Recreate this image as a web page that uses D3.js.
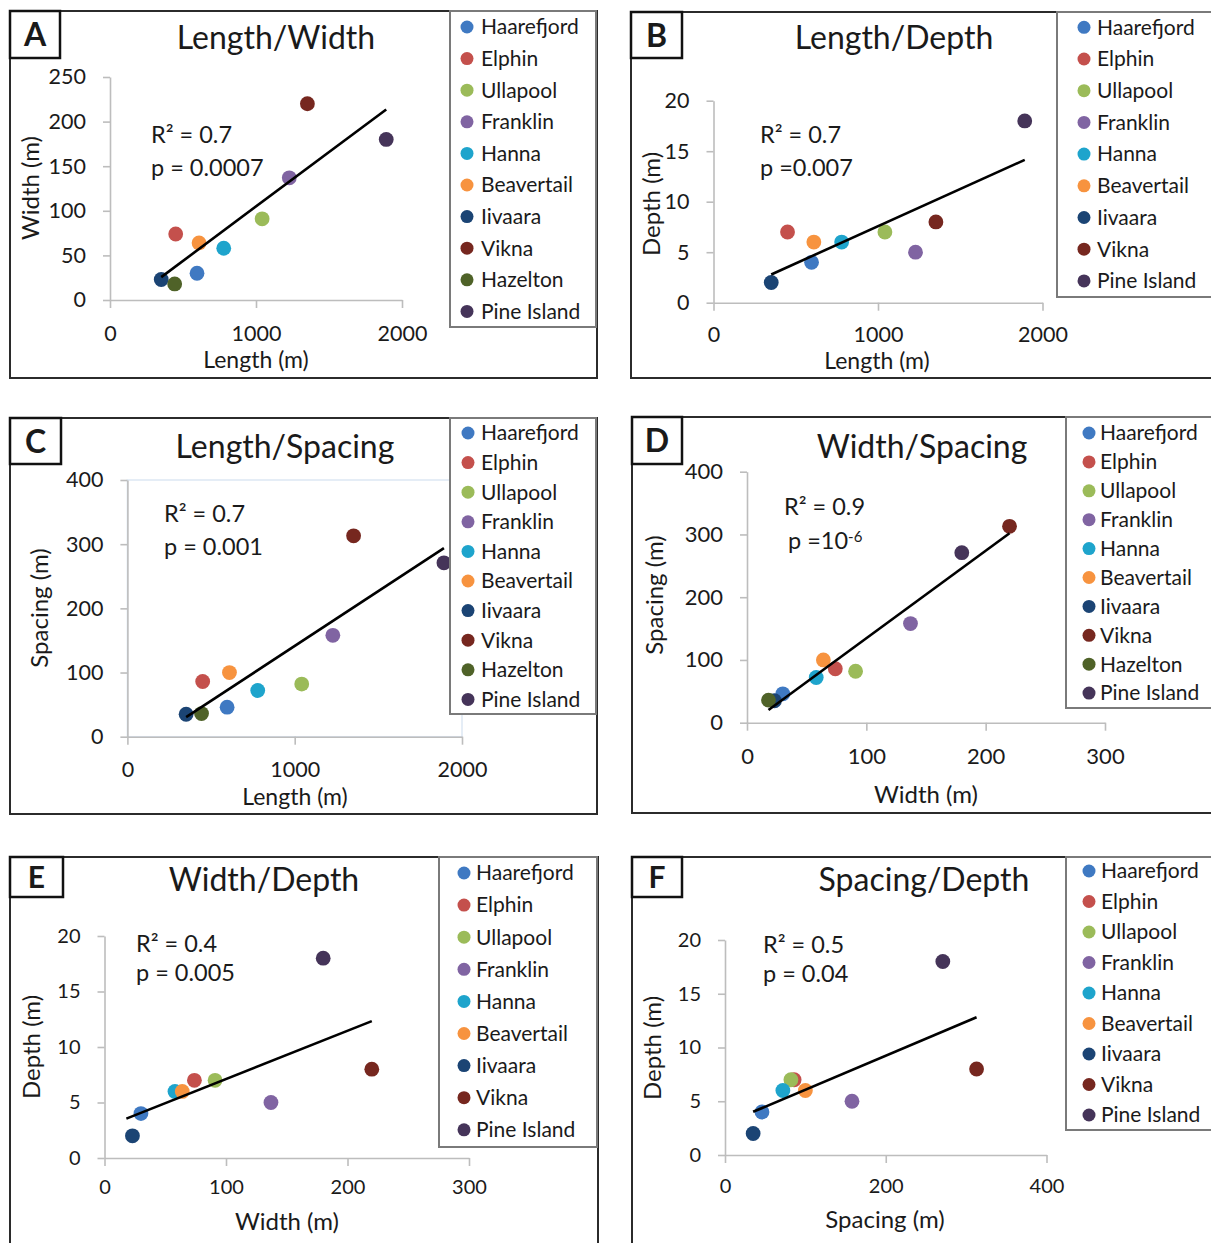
<!DOCTYPE html>
<html>
<head>
<meta charset="utf-8">
<script src="https://cdn.jsdelivr.net/npm/d3@7"></script>
<style>
	body { margin: 0; background: #fff; }
	text { font-family: Lato, "Open Sans", sans-serif; fill: #1a1a1a; }
</style>
</head>
<body>
<div id="chart"></div>
<script>
var sites   = ["Haarefjord", "Elphin", "Ullapool", "Franklin", "Hanna", "Beavertail", "Iivaara", "Vikna", "Hazelton", "Pine Island"];
var colors  = ["#3f79c2", "#c4504c", "#9bbb59", "#8064a2", "#1ea4cc", "#f7933f", "#1b4474", "#76271f", "#4f6228", "#453459"];
var length  = [596, 450, 1042, 1228, 779, 610, 351, 1352, 443, 1892];
var width   = [30, 74, 91, 137, 58, 64, 23, 220, 18, 180];
var spacing = [46, 86, 82, 158, 72, 100, 35, 313, 36, 271];
var depth   = [4, 7, 7, 5, 6, 6, 2, 8, null, 18];

// tick labels
var lengthTicks   = [0, 1000, 2000];
var widthTicksA   = [0, 50, 100, 150, 200, 250];
var widthTicks    = [0, 100, 200, 300];
var spacingTicksC = [0, 100, 200, 300, 400];
var spacingTicksF = [0, 200, 400];
var depthTicks    = [0, 5, 10, 15, 20];

// statistics printed on each panel
var r2Text = ["0.7", "0.7", "0.7", "0.9", "0.4", "0.5"];
var pText  = ["= 0.0007", "=0.007", "= 0.001", "=10", "= 0.005", "= 0.04"];

var cols = { length: length, width: width, spacing: spacing, depth: depth };

var panels = [
	{id:"A", title:"Length/Width", x:"length", y:"width", xTicks:lengthTicks, yTicks:widthTicksA,
	 frame:[10,11,587,367], lbox:[10,11,50,47], titleXY:[276,38], xRange:[110,402], yRange:[300,77],
	 xLabel:"Length (m)", yLabel:"Width (m)", xTickDy:33.5, xTitleXY:[256,360], yTitleXY:[31,188],
	 stat:[151,135,168], leg:[450,11,146,316], mx:467, tx:481, ly0:27, ldy:31.6, hz:true, fs:21.5, ts:23},
	{id:"B", title:"Length/Depth", x:"length", y:"depth", xTicks:lengthTicks, yTicks:depthTicks,
	 frame:[631,12,590,366], lbox:[631,12,51,46], titleXY:[894,38], xRange:[713.5,1042.5], yRange:[302.7,100.7],
	 xLabel:"Length (m)", yLabel:"Depth (m)", xTickDy:32, xTitleXY:[877,361], yTitleXY:[652,204],
	 stat:[760,135,168], leg:[1057,12,160,285], mx:1084, tx:1097, ly0:27.3, ldy:31.7, hz:false, fs:21.5, ts:23},
	{id:"C", title:"Length/Spacing", x:"length", y:"spacing", xTicks:lengthTicks, yTicks:spacingTicksC,
	 frame:[10,418,587,396], lbox:[10,418,51,46], titleXY:[285,447], xRange:[127.4,462], yRange:[736.7,480],
	 xLabel:"Length (m)", yLabel:"Spacing (m)", xTickDy:33, xTitleXY:[295,797], yTitleXY:[40,608],
	 stat:[164,514,547], leg:[450,418,146,296], mx:468, tx:481, ly0:433, ldy:29.6, hz:true, fs:21.5, ts:23, plotBox:true},
	{id:"D", title:"Width/Spacing", x:"width", y:"spacing", xTicks:widthTicks, yTicks:spacingTicksC,
	 frame:[632,417,590,396], lbox:[632,417,50,47], titleXY:[922,447], xRange:[747,1105], yRange:[722.7,471.7],
	 xLabel:"Width (m)", yLabel:"Spacing (m)", xTickDy:34, xTitleXY:[926,795], yTitleXY:[655,595],
	 stat:[784,507,541], leg:[1066,417,150,291], mx:1089, tx:1100, ly0:433, ldy:28.9, hz:true, fs:22, ts:24, sup:"-6", pX:788},
	{id:"E", title:"Width/Depth", x:"width", y:"depth", xTicks:widthTicks, yTicks:depthTicks,
	 frame:[10,857,588,400], lbox:[10,857,53,40], titleXY:[264,880], xRange:[104.5,469], yRange:[1158,936],
	 xLabel:"Width (m)", yLabel:"Depth (m)", xTickDy:29, xTitleXY:[287,1222], yTitleXY:[32,1047],
	 stat:[136,944,973], leg:[439,857,158,290], mx:464, tx:476, ly0:873, ldy:32.1, hz:false, fs:20, ts:24},
	{id:"F", title:"Spacing/Depth", x:"spacing", y:"depth", xTicks:spacingTicksF, yTicks:depthTicks,
	 frame:[632,857,590,400], lbox:[632,857,50,40], titleXY:[924,880], xRange:[725,1046.5], yRange:[1155,940],
	 xLabel:"Spacing (m)", yLabel:"Depth (m)", xTickDy:31, xTitleXY:[885,1220], yTitleXY:[653,1048],
	 stat:[763,945,974], leg:[1066,857,150,273], mx:1089, tx:1101, ly0:871, ldy:30.5, hz:false, fs:20, ts:24}
];

function fit(xs, ys) {
	var pts = xs.map(function(x, i){ return [x, ys[i]]; }).filter(function(d){ return d[1] != null; });
	var mx = d3.mean(pts, function(d){ return d[0]; });
	var my = d3.mean(pts, function(d){ return d[1]; });
	var sxy = d3.sum(pts, function(d){ return (d[0]-mx)*(d[1]-my); });
	var sxx = d3.sum(pts, function(d){ return (d[0]-mx)*(d[0]-mx); });
	var b = sxy / sxx;
	return function(x){ return my + b*(x - mx); };
}

var svg = d3.select("#chart").append("svg")
	.attr("width", 1211).attr("height", 1243);
svg.append("rect").attr("width", 1211).attr("height", 1243).attr("fill", "#fff");

panels.forEach(function(p, pi){
	var g = svg.append("g");
	var xv = cols[p.x], yv = cols[p.y];
	var x = d3.scaleLinear().domain(d3.extent(p.xTicks)).range(p.xRange);
	var y = d3.scaleLinear().domain(d3.extent(p.yTicks)).range(p.yRange);

	// outer frame
	g.append("rect").attr("x", p.frame[0]).attr("y", p.frame[1])
		.attr("width", p.frame[2]).attr("height", p.frame[3])
		.attr("fill", "none").attr("stroke", "#2b2b2b").attr("stroke-width", 2);

	if (p.plotBox) {
		g.append("rect").attr("x", p.xRange[0]).attr("y", p.yRange[1])
			.attr("width", p.xRange[1]-p.xRange[0]).attr("height", p.yRange[0]-p.yRange[1])
			.attr("fill", "none").attr("stroke", "#dde7f3").attr("stroke-width", 1.5);
	}

	// axes
	var ya = g.append("g").attr("transform", "translate(" + p.xRange[0] + ",0)")
		.call(d3.axisLeft(y).tickValues(p.yTicks).tickSize(7).tickSizeOuter(0).tickPadding(17).tickFormat(d3.format("d")));
	var xa = g.append("g").attr("transform", "translate(0," + p.yRange[0] + ")")
		.call(d3.axisBottom(x).tickValues(p.xTicks).tickSize(8).tickSizeOuter(0).tickFormat(d3.format("d")));
	[ya, xa].forEach(function(a){
		a.select(".domain").attr("stroke", "#bdbdbd").attr("stroke-width", 1.6);
		a.selectAll(".tick line").attr("stroke", "#bdbdbd").attr("stroke-width", 1.6);
		a.selectAll(".tick text").style("font-size", p.fs + "px").attr("fill", "#1a1a1a");
	});
	xa.selectAll(".tick text").attr("y", p.xTickDy).attr("dy", "0.35em");

	// axis titles
	g.append("text").attr("x", p.xTitleXY[0]).attr("y", p.xTitleXY[1]).attr("dy", "0.35em")
		.attr("text-anchor", "middle").style("font-size", p.ts + "px").text(p.xLabel);
	g.append("text").attr("transform", "translate(" + p.yTitleXY[0] + "," + p.yTitleXY[1] + ") rotate(-90)")
		.attr("dy", "0.35em").attr("text-anchor", "middle").style("font-size", "24px").text(p.yLabel);

	// title
	g.append("text").attr("x", p.titleXY[0]).attr("y", p.titleXY[1]).attr("dy", "0.35em")
		.attr("text-anchor", "middle").style("font-size", "32px").text(p.title);

	// points
	var idx = d3.range(sites.length).filter(function(i){ return yv[i] != null; });
	g.selectAll("circle.pt").data(idx).enter().append("circle")
		.attr("class", "pt")
		.attr("cx", function(i){ return x(xv[i]); })
		.attr("cy", function(i){ return y(yv[i]); })
		.attr("r", 7.4)
		.attr("fill", function(i){ return colors[i]; });

	// trend line
	var f = fit(xv, yv);
	var ext = d3.extent(xv);
	g.append("line")
		.attr("x1", x(ext[0])).attr("y1", y(f(ext[0])))
		.attr("x2", x(ext[1])).attr("y2", y(f(ext[1])))
		.attr("stroke", "#000").attr("stroke-width", 2.6);

	// stats
	g.append("text").attr("x", p.stat[0]).attr("y", p.stat[1]).attr("dy", "0.35em")
		.style("font-size", "23.5px").text("R\u00B2 = " + r2Text[pi]);
	var pt = g.append("text").attr("x", p.pX || p.stat[0]).attr("y", p.stat[2]).attr("dy", "0.35em")
		.style("font-size", "23.5px").text("p " + pText[pi]);
	if (p.sup) {
		pt.append("tspan").attr("dy", "-0.45em").style("font-size", "15px").text(p.sup);
	}

	// legend
	var legIdx = d3.range(sites.length).filter(function(i){ return p.hz || sites[i] != "Hazelton"; });
	g.append("rect").attr("x", p.leg[0]).attr("y", p.leg[1]).attr("width", p.leg[2]).attr("height", p.leg[3])
		.attr("fill", "#fff").attr("stroke", "#7a7a7a").attr("stroke-width", 2);
	var li = g.selectAll("g.li").data(legIdx).enter().append("g").attr("class", "li")
		.attr("transform", function(d, k){ return "translate(0," + (p.ly0 + k*p.ldy) + ")"; });
	li.append("circle").attr("cx", p.mx).attr("cy", 0).attr("r", 6.5)
		.attr("fill", function(i){ return colors[i]; });
	li.append("text").attr("x", p.tx).attr("dy", "0.35em").style("font-size", "21px")
		.text(function(i){ return sites[i]; });

	// panel letter
	g.append("rect").attr("x", p.lbox[0]).attr("y", p.lbox[1]).attr("width", p.lbox[2]).attr("height", p.lbox[3])
		.attr("fill", "#fff").attr("stroke", "#111").attr("stroke-width", 2.5);
	g.append("text").attr("x", p.lbox[0] + p.lbox[2]/2).attr("y", p.lbox[1] + p.lbox[3]/2).attr("dy", "0.36em")
		.attr("text-anchor", "middle").style("font-size", p.lbox[3] > 44 ? "32px" : "30px")
		.style("font-weight", "bold").text(p.id);
});
</script>
</body>
</html>
